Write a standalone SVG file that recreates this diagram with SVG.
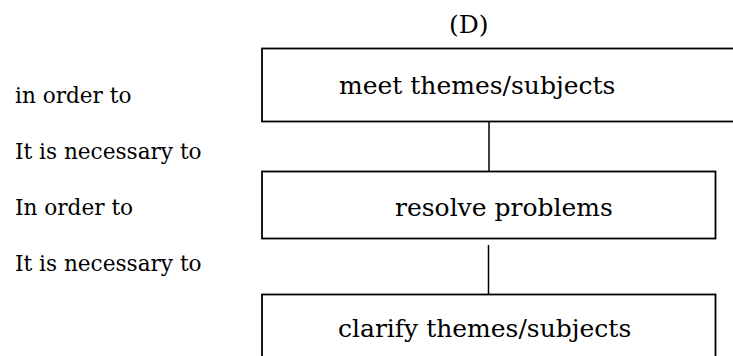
<svg xmlns="http://www.w3.org/2000/svg" width="733" height="356" viewBox="0 0 733 356">
  <style>
    .box { fill: #ffffff; stroke: #000000; stroke-width: 1.8; }
    .link { stroke: #000000; stroke-width: 1.5; fill: none; }
    .label { font-family: "DejaVu Serif", "Liberation Serif", serif; font-size: 21.6px; fill: #000000; }
    .node-text { font-family: "DejaVu Serif", "Liberation Serif", serif; font-size: 25px; fill: #000000; }
  </style>
  <rect width="733" height="356" fill="#ffffff"/>

  <!-- heading -->
  <text class="node-text" x="449" y="33">(D)</text>

  <!-- left-hand reading labels -->
  <g id="labels">
    <text class="label" x="15" y="103">in order to</text>
    <text class="label" x="15" y="159">It is necessary to</text>
    <text class="label" x="15" y="215">In order to</text>
    <text class="label" x="15" y="271">It is necessary to</text>
  </g>

  <!-- connectors between the boxes -->
  <g id="connectors">
    <line class="link" x1="489" y1="122" x2="489" y2="171.5"/>
    <line class="link" x1="488.5" y1="245" x2="488.5" y2="294.5"/>
  </g>

  <g id="node-meet">
    <rect class="box" x="262" y="48.5" width="480" height="73"/>
    <text class="node-text" x="339" y="94">meet themes/subjects</text>
  </g>

  <g id="node-resolve">
    <rect class="box" x="262" y="171.5" width="453.5" height="67"/>
    <text class="node-text" x="395" y="216">resolve problems</text>
  </g>

  <g id="node-clarify">
    <rect class="box" x="262" y="294.5" width="453.5" height="80"/>
    <text class="node-text" x="338" y="337">clarify themes/subjects</text>
  </g>
</svg>
